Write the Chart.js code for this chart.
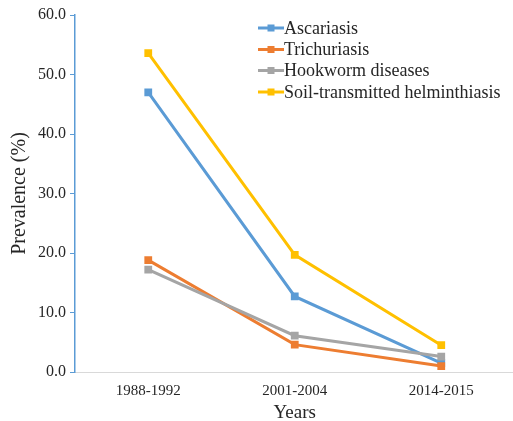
<!DOCTYPE html>
<html>
<head>
<meta charset="utf-8">
<script src="https://cdn.jsdelivr.net/npm/chart.js@4"></script>
<style>
html, body { margin:0; padding:0; overflow:hidden; background:#fff; }
#wrap { width:520px; height:421px; }
</style>
</head>
<body>
<div id="wrap"><canvas id="c" width="520" height="421"></canvas></div>
<script>
const categories = ['1988-1992', '2001-2004', '2014-2015'];
const seriesNames = ['Ascariasis', 'Trichuriasis', 'Hookworm diseases', 'Soil-transmitted helminthiasis'];
const ascariasis = [47.0, 12.7, 1.5];
const trichuriasis = [18.8, 4.6, 1.0];
const hookworm = [17.2, 6.1, 2.6];
const sth = [53.6, 19.7, 4.5];
const yTicks = [0, 10, 20, 30, 40, 50, 60];

const colors = ['#5B9BD5', '#ED7D31', '#A5A5A5', '#FFC000'];
const values = [ascariasis, trichuriasis, hookworm, sth];
const SERIF = "'Liberation Serif', 'Times New Roman', serif";

const legendPlugin = {
  id: 'customLegend',
  afterDraw(chart) {
    const ctx = chart.ctx;
    const rows = [28, 49.5, 70.5, 92];
    ctx.save();
    chart.data.datasets.forEach((ds, i) => {
      const y = rows[i];
      ctx.strokeStyle = ds.borderColor;
      ctx.lineWidth = 3;
      ctx.beginPath();
      ctx.moveTo(258, y);
      ctx.lineTo(284, y);
      ctx.stroke();
      ctx.fillStyle = ds.borderColor;
      ctx.fillRect(267.5, y - 3.5, 7, 7);
      ctx.fillStyle = '#262626';
      ctx.font = "18px " + SERIF;
      ctx.textBaseline = 'middle';
      ctx.textAlign = 'left';
      ctx.fillText(ds.label, 284, y + 1);
    });
    ctx.restore();
  }
};

new Chart(document.getElementById('c'), {
  type: 'line',
  data: {
    labels: categories,
    datasets: seriesNames.map((name, i) => ({
      label: name,
      data: values[i],
      borderColor: colors[i],
      backgroundColor: colors[i],
      borderWidth: 3,
      pointStyle: 'rect',
      pointRadius: 5.5,
      pointHoverRadius: 5.5,
      pointBorderWidth: 0,
      tension: 0,
      fill: false,
      order: 3 - i
    }))
  },
  options: {
    responsive: false,
    animation: false,
    events: [],
    layout: { padding: { top: 15, left: 0, right: 0, bottom: 0 } },
    plugins: { legend: { display: false }, tooltip: { enabled: false } },
    scales: {
      x: {
        type: 'category',
        offset: true,
        grid: { display: false, drawTicks: false },
        border: { display: true, color: '#D9D9D9', width: 1 },
        ticks: { font: { family: SERIF, size: 15 }, color: '#262626', padding: 10, maxRotation: 0 },
        title: { display: true, text: 'Years', font: { family: SERIF, size: 19 }, color: '#262626', padding: { top: 0, bottom: -3 } },
        afterFit(scale) { scale.height = 49; }
      },
      y: {
        min: 0,
        max: 60,
        afterBuildTicks(scale) { scale.ticks = yTicks.map(v => ({ value: v })); },
        ticks: {
          font: { family: SERIF, size: 16 },
          color: '#262626',
          padding: 4,
          callback: v => Number(v).toFixed(1)
        },
        grid: { display: true, drawOnChartArea: false, drawTicks: true, tickLength: 5, color: '#5B9BD5', lineWidth: 1 },
        border: { display: true, color: '#5B9BD5', width: 1.5 },
        title: { display: true, text: 'Prevalence (%)', font: { family: SERIF, size: 20 }, color: '#262626', padding: { top: 8, bottom: 0 } },
        afterFit(scale) { scale.width = 75; }
      }
    }
  },
  plugins: [legendPlugin]
});
</script>
</body>
</html>
